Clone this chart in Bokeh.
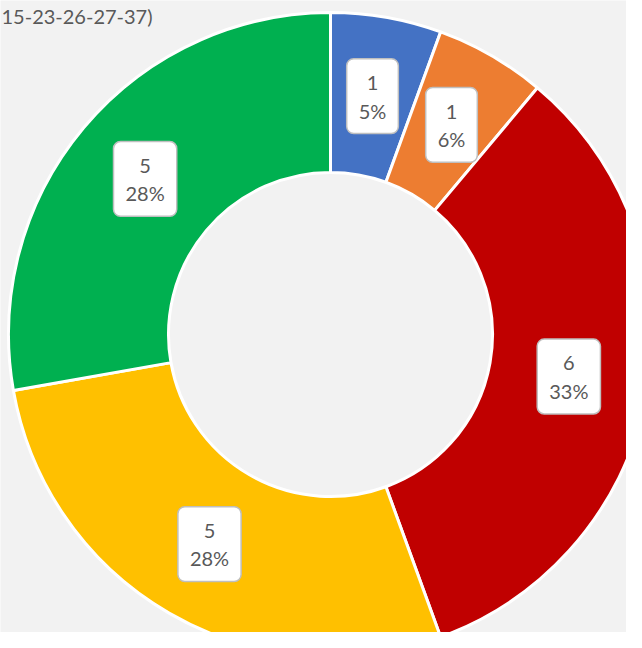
import numpy as np
from bokeh.plotting import figure
from bokeh.models import ColumnDataSource, Range1d, Label
from bokeh.embed import file_html
from bokeh.resources import INLINE

# Data
categories = ["A", "B", "C", "D", "E"]
values = [1, 1, 6, 5, 5]
pct_labels = ["5%", "6%", "33%", "28%", "28%"]
colors = ["#4472C4", "#ED7D31", "#C00000", "#FFC000", "#00B050"]
title_text = "15-23-26-27-37)"

W, H = 626, 632
p = figure(width=W, height=H, output_backend="svg", toolbar_location=None,
           x_range=Range1d(0, W), y_range=Range1d(-H, 0),
           min_border=0, background_fill_color="#F2F2F2",
           border_fill_color="#F2F2F2", outline_line_color=None)
p.axis.visible = False
p.grid.visible = False

cx, cy = 330, -334
r_out, r_in = 322, 162

vals = np.array(values, dtype=float)
frac = vals / vals.sum()
cum_end = np.cumsum(frac)
cum_start = cum_end - frac
start = np.pi / 2 - cum_start * 2 * np.pi
end = np.pi / 2 - cum_end * 2 * np.pi
mid = (start + end) / 2
r_mid = (r_in + r_out) / 2

src = ColumnDataSource(dict(start=start, end=end, color=colors))

p.annular_wedge(x=cx, y=cy, inner_radius=r_in, outer_radius=r_out,
                start_angle="start", end_angle="end", direction="clock",
                fill_color="color", line_color="white", line_width=3, source=src)

for v, t, a in zip(values, pct_labels, mid):
    p.add_layout(Label(x=cx + r_mid * np.cos(a), y=cy + r_mid * np.sin(a),
                       text=f"{v}\n{t}",
                       text_align="center", text_baseline="middle",
                       text_font="Lato", text_font_size="20px", text_color="#595959",
                       text_line_height=1.2,
                       background_fill_color="white", border_line_color="#BFBFBF",
                       border_line_width=1.5, border_radius=7,
                       padding=dict(left=12, right=12, top=11, bottom=11)))

p.add_layout(Label(x=1, y=-15, text=title_text, text_align="left",
                   text_baseline="middle", text_font="Lato",
                   text_font_size="20px", text_color="#595959"))

open("out.html", "w").write(file_html(p, INLINE))
